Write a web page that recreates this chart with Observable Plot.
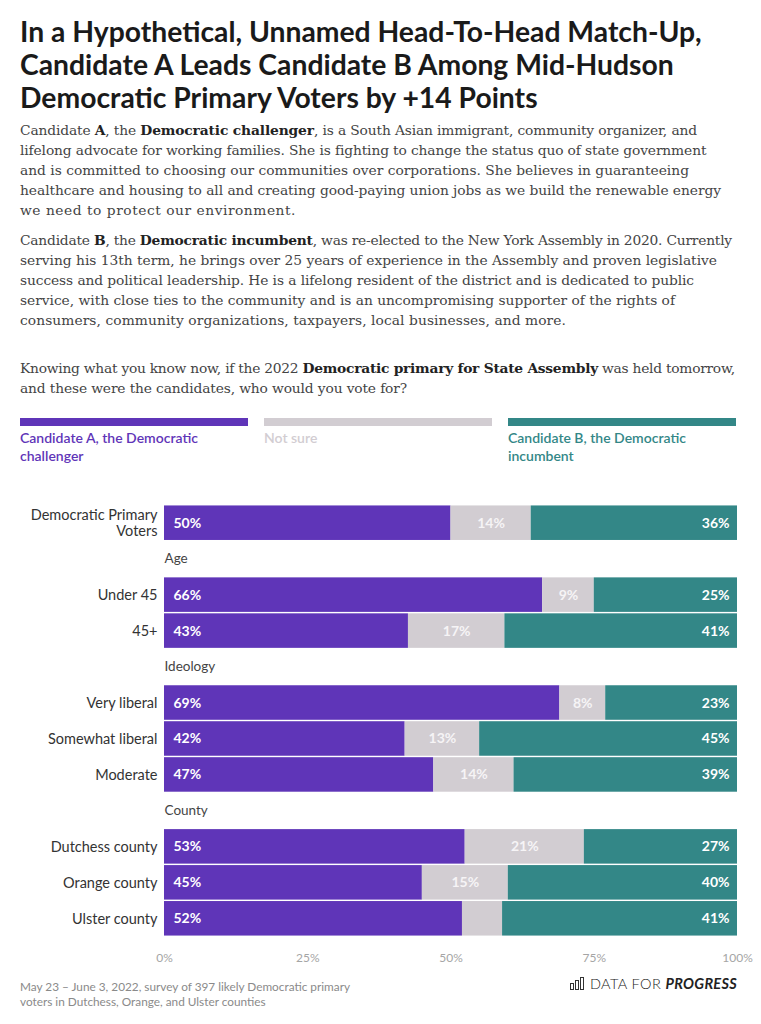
<!DOCTYPE html>
<html>
<head>
<meta charset="utf-8">
<script src="https://cdn.jsdelivr.net/npm/d3@7"></script>
<script src="https://cdn.jsdelivr.net/npm/@observablehq/plot@0.6"></script>
<style>
  html, body { margin: 0; padding: 0; background: #fff; }
  body { width: 761px; height: 1024px; position: relative; overflow: hidden; font-family: Lato, sans-serif; }
  .abs { position: absolute; }
  #title { left: 20px; top: 15px; font: 700 28.3px/33px Lato, sans-serif; color: #1a1a1a; white-space: nowrap; }
  .para { left: 20px; font: 13.8px/20px "DejaVu Serif", serif; color: #444; white-space: nowrap; }
  .para .ln { display: block; width: max-content; }
  .para b { color: #222; }
  .leg { top: 418px; width: 228px; }
  .leg .bar { height: 8px; }
  .leg .lab { margin-top: 3px; font: 600 14px/18px Lato, sans-serif; }
  #chart { left: 0; top: 480px; }
  #foot { left: 20px; top: 979px; font: 11.8px/15px Lato, sans-serif; color: #8a8a8a; }
  #logo { right: 24px; top: 975px; font: 300 14.5px Lato, sans-serif; color: #222; display: flex; align-items: center; gap: 6px; letter-spacing: 0.4px; }
  #logo b { font-style: italic; font-weight: 700; letter-spacing: 0.3px; }
</style>
</head>
<body>
<div id="title" class="abs">In a Hypothetical, Unnamed Head-To-Head Match-Up,<br>Candidate A Leads Candidate B Among Mid-Hudson<br>Democratic Primary Voters by +14 Points</div>

<div class="abs para" style="top:120px">
<span class="ln" data-r="697">Candidate <b>A</b>, the <b>Democratic challenger</b>, is a South Asian immigrant, community organizer, and</span>
<span class="ln" data-r="706">lifelong advocate for working families. She is fighting to change the status quo of state government</span>
<span class="ln" data-r="689">and is committed to choosing our communities over corporations. She believes in guaranteeing</span>
<span class="ln" data-r="721">healthcare and housing to all and creating good-paying union jobs as we build the renewable energy</span>
<span class="ln" data-r="296">we need to protect our environment.</span>
</div>

<div class="abs para" style="top:230px">
<span class="ln" data-r="732">Candidate <b>B</b>, the <b>Democratic incumbent</b>, was re-elected to the New York Assembly in 2020. Currently</span>
<span class="ln" data-r="717">serving his 13th term, he brings over 25 years of experience in the Assembly and proven legislative</span>
<span class="ln" data-r="694">success and political leadership. He is a lifelong resident of the district and is dedicated to public</span>
<span class="ln" data-r="675">service, with close ties to the community and is an uncompromising supporter of the rights of</span>
<span class="ln" data-r="566">consumers, community organizations, taxpayers, local businesses, and more.</span>
</div>

<div class="abs para" style="top:358px">
<span class="ln" data-r="735">Knowing what you know now, if the 2022 <b>Democratic primary for State Assembly</b> was held tomorrow,</span>
<span class="ln" data-r="407">and these were the candidates, who would you vote for?</span>
</div>

<div id="legend"></div>
<div id="chart" class="abs"></div>

<div id="foot" class="abs">May 23 – June 3, 2022, survey of 397 likely Democratic primary<br>voters in Dutchess, Orange, and Ulster counties</div>
<div id="logo" class="abs"><svg width="14" height="13" viewBox="0 0 14 13"><g fill="none" stroke="#333" stroke-width="1"><rect x="0.5" y="6.5" width="3" height="6"/><rect x="5.5" y="3.5" width="3" height="9"/><rect x="10.5" y="0.5" width="3" height="12"/></g></svg><span>DATA FOR <b>PROGRESS</b></span></div>

<script>
// ---- data ----
const responses = ["Candidate A, the Democratic challenger", "Not sure", "Candidate B, the Democratic incumbent"];
const colors = ["#5f35b8", "#d2cdd2", "#338787"];
const labelColors = ["#ffffff", "#f6f4f6", "#ffffff"];
const rows = ["Democratic Primary Voters", "Age", "Under 45", "45+", "Ideology", "Very liberal", "Somewhat liberal", "Moderate", "County", "Dutchess county", "Orange county", "Ulster county"];
const headers = ["Age", "Ideology", "County"];
const groups = ["Democratic Primary Voters", "Under 45", "45+", "Very liberal", "Somewhat liberal", "Moderate", "Dutchess county", "Orange county", "Ulster county"];
const candA   = [50, 66, 43, 69, 42, 47, 53, 45, 52];
const notSure = [14,  9, 17,  8, 13, 14, 21, 15,  7];
const candB   = [36, 25, 41, 23, 45, 39, 27, 40, 41];
const xTicks = [0, 0.25, 0.5, 0.75, 1];
const rowLabels = {"Democratic Primary Voters": "Democratic Primary\nVoters"};

// ---- fit paragraph lines to the reference widths ----
document.querySelectorAll(".para .ln").forEach(el => {
  const target = +el.dataset.r - 20;
  const w = el.getBoundingClientRect().width;
  const n = el.textContent.length;
  el.style.letterSpacing = ((target - w) / n).toFixed(3) + "px";
});

// ---- legend ----
const legend = document.getElementById("legend");
const legX = [20, 264, 508];
responses.forEach((r, i) => {
  const d = document.createElement("div");
  d.className = "abs leg";
  d.style.left = legX[i] + "px";
  d.innerHTML = `<div class="bar" style="background:${colors[i]}"></div><div class="lab" style="color:${colors[i]}">${r.replace(", the Democratic", ", the Democratic<br>")}</div>`;
  legend.appendChild(d);
});

// ---- table ----
const series = [candA, notSure, candB];
const data = [];
groups.forEach((g, gi) => {
  responses.forEach((r, ri) => {
    data.push({group: g, response: r, idx: ri, value: series[ri][gi]});
  });
});

const stackOpts = {x: "value", y: "group", z: "response", order: responses, offset: "normalize"};
const lab = (k, min = 8) => d => d.idx === k && d.value >= min ? d.value + "%" : "";

const chart = Plot.plot({
  width: 761,
  height: 500,
  marginLeft: 164,
  marginRight: 24,
  marginTop: 24,
  marginBottom: 43,
  style: {fontFamily: "Lato, sans-serif", background: "transparent"},
  x: {domain: [0, 1], axis: null, label: null},
  y: {domain: rows, padding: 0.04, round: false, axis: null, label: null},
  color: {domain: responses, range: colors},
  marks: [
    Plot.barX(data, {...Plot.stackX(stackOpts), fill: "response"}),
    Plot.text(data, {...Plot.stackX1({...stackOpts, text: lab(0)}), dx: 9, textAnchor: "start", fill: labelColors[0], fontWeight: 700, fontSize: 14}),
    Plot.text(data, {...Plot.stackX({...stackOpts, text: lab(1)}), fill: labelColors[1], fontWeight: 700, fontSize: 14}),
    Plot.text(data, {...Plot.stackX2({...stackOpts, text: lab(2)}), dx: -8, textAnchor: "end", fill: labelColors[2], fontWeight: 700, fontSize: 14}),
    Plot.axisY({domain: rows, label: null, tickSize: 0, tickPadding: 7, fontSize: 14.5, lineHeight: 1.05, color: "#333",
      tickFormat: d => headers.includes(d) ? "" : (rowLabels[d] || d)}),
    Plot.text(headers, {y: d => d, text: d => d, frameAnchor: "left", textAnchor: "start", fill: "#444", fontSize: 13.5}),
    Plot.axisX({ticks: xTicks, label: null, tickSize: 0, tickPadding: 16, fontSize: 12, color: "#a5a5a5", tickFormat: d => Math.round(d * 100) + "%"})
  ]
});
document.getElementById("chart").appendChild(chart);
</script>
</body>
</html>
